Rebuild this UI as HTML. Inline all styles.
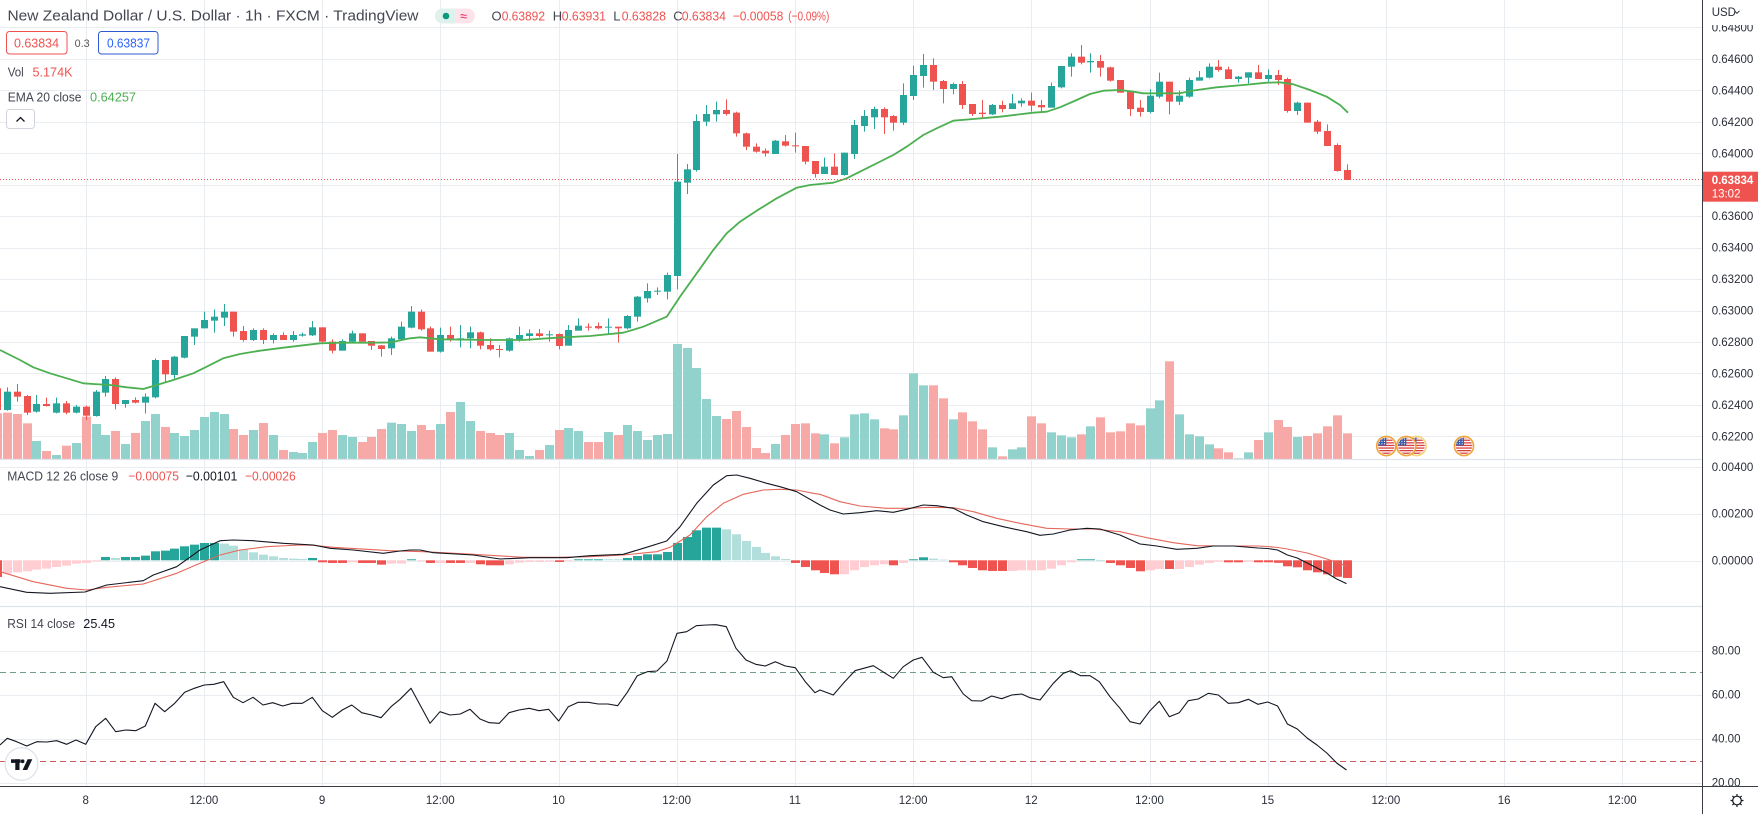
<!DOCTYPE html>
<html><head><meta charset="utf-8">
<style>
html,body{margin:0;padding:0;background:#fff;width:1758px;height:814px;overflow:hidden}
svg{display:block}
text{font-family:"Liberation Sans",Arial,sans-serif}
</style></head><body>
<svg id="c" width="1758" height="814" viewBox="0 0 1758 814" xmlns="http://www.w3.org/2000/svg">
<defs><clipPath id="fc"><circle cx="0" cy="0" r="8.3"/></clipPath></defs>
<rect x="0" y="0" width="1758" height="814" fill="#fff"/>
<g id="grid" stroke="#e9ecf1" stroke-width="1"></g>
<g id="vol"></g>
<g id="cand"></g>
<polyline id="ema" fill="none" stroke="#4caf50" stroke-width="1.8" stroke-linejoin="round"/>
<line x1="0" y1="179.5" x2="1702" y2="179.5" stroke="#ef5350" stroke-width="1" stroke-dasharray="1,2"/>
<g id="macdh"></g>
<polyline id="sig" fill="none" stroke="#e5675a" stroke-width="1.1" stroke-linejoin="round"/>
<polyline id="macd" fill="none" stroke="#131722" stroke-width="1.1" stroke-linejoin="round"/>
<line x1="0" y1="672.5" x2="1702" y2="672.5" stroke="#6f9f86" stroke-width="1" stroke-dasharray="6,4"/>
<line x1="0" y1="761.5" x2="1702" y2="761.5" stroke="#d05a5a" stroke-width="1" stroke-dasharray="6,4"/>
<polyline id="rsi" fill="none" stroke="#131722" stroke-width="1.1" stroke-linejoin="round"/>
<g id="icons"></g>

<!-- pane separators -->
<line x1="0" y1="459.5" x2="1758" y2="459.5" stroke="#e0e3eb" stroke-width="1.2"/>
<line x1="0" y1="606.5" x2="1758" y2="606.5" stroke="#e0e3eb" stroke-width="1.2"/>

<!-- header -->
<text x="7.5" y="20.5" font-size="14.5" fill="#434651" textLength="411" lengthAdjust="spacingAndGlyphs">New Zealand Dollar / U.S. Dollar · 1h · FXCM · TradingView</text>
<rect x="435" y="8.5" width="40" height="15" rx="7.5" fill="#fde4ea"/>
<path d="M442.5 8.5 H455 V23.5 H442.5 A7.5 7.5 0 0 1 442.5 8.5 Z" fill="#dff1ed"/>
<circle cx="446" cy="16" r="3.3" fill="#089981"/>
<text x="460" y="20.5" font-size="13" fill="#e91e63">≈</text>
<g font-size="13">
<text x="491.5" y="20.5" fill="#434651">O</text>
<text x="501.7" y="20.5" fill="#ef5350" textLength="43.3" lengthAdjust="spacingAndGlyphs">0.63892</text>
<text x="552.7" y="20.5" fill="#434651">H</text>
<text x="561.7" y="20.5" fill="#ef5350" textLength="44.3" lengthAdjust="spacingAndGlyphs">0.63931</text>
<text x="613.3" y="20.5" fill="#434651">L</text>
<text x="621.7" y="20.5" fill="#ef5350" textLength="44.3" lengthAdjust="spacingAndGlyphs">0.63828</text>
<text x="673.3" y="20.5" fill="#434651">C</text>
<text x="681.7" y="20.5" fill="#ef5350" textLength="44.3" lengthAdjust="spacingAndGlyphs">0.63834</text>
<text x="732.7" y="20.5" fill="#ef5350" textLength="50.6" lengthAdjust="spacingAndGlyphs">−0.00058</text>
<text x="788.3" y="20.5" fill="#ef5350" textLength="41" lengthAdjust="spacingAndGlyphs">(−0.09%)</text>
</g>
<rect x="6.5" y="31.5" width="60.5" height="22.5" rx="3" fill="#fff" stroke="#ef5350" stroke-width="1"/>
<text x="14" y="47.3" font-size="12.5" fill="#ef5350" textLength="45" lengthAdjust="spacingAndGlyphs">0.63834</text>
<text x="74.6" y="47" font-size="11" fill="#555" textLength="15" lengthAdjust="spacingAndGlyphs">0.3</text>
<rect x="98.5" y="31.5" width="59.5" height="22.5" rx="3" fill="#fff" stroke="#2f5bd0" stroke-width="1"/>
<text x="107" y="47.3" font-size="12.5" fill="#2962ff" textLength="43" lengthAdjust="spacingAndGlyphs">0.63837</text>
<text x="7.7" y="76.5" font-size="13" fill="#434651" textLength="16" lengthAdjust="spacingAndGlyphs">Vol</text>
<text x="32.5" y="76.5" font-size="13" fill="#ef5350" textLength="40" lengthAdjust="spacingAndGlyphs">5.174K</text>
<text x="7.7" y="101.5" font-size="13" fill="#434651" textLength="73.8" lengthAdjust="spacingAndGlyphs">EMA 20 close</text>
<text x="90" y="101.5" font-size="13" fill="#4caf50" textLength="46" lengthAdjust="spacingAndGlyphs">0.64257</text>
<rect x="6.5" y="109.5" width="28" height="19" rx="3" fill="#fff" stroke="#d1d4dc" stroke-width="1"/>
<path d="M16.5 121.5 L20.5 117.5 L24.5 121.5" fill="none" stroke="#131722" stroke-width="1.3"/>

<!-- MACD legend -->
<text x="7.3" y="480.5" font-size="13" fill="#434651" textLength="111" lengthAdjust="spacingAndGlyphs">MACD 12 26 close 9</text>
<text x="128.3" y="480.5" font-size="13" fill="#ef5350" textLength="50.7" lengthAdjust="spacingAndGlyphs">−0.00075</text>
<text x="185.7" y="480.5" font-size="13" fill="#131722" textLength="51.6" lengthAdjust="spacingAndGlyphs">−0.00101</text>
<text x="245" y="480.5" font-size="13" fill="#ef5350" textLength="50.7" lengthAdjust="spacingAndGlyphs">−0.00026</text>
<!-- RSI legend -->
<text x="7.3" y="627.8" font-size="13" fill="#434651" textLength="67.7" lengthAdjust="spacingAndGlyphs">RSI 14 close</text>
<text x="83.3" y="627.8" font-size="13" fill="#131722" textLength="31.7" lengthAdjust="spacingAndGlyphs">25.45</text>

<!-- TV logo -->
<circle cx="21.5" cy="764" r="16.3" fill="#fff" stroke="#e0e3eb" stroke-width="1.3"/>
<rect x="11" y="759.3" width="9.5" height="3.6" fill="#131722"/>
<rect x="15.3" y="759.3" width="4.2" height="10.7" fill="#131722"/>
<circle cx="22.6" cy="761.3" r="1.9" fill="#131722"/>
<polygon points="27.6,759.3 32.3,759.3 27.2,770 22.6,770" fill="#131722"/>

<!-- axes -->
<rect x="1703" y="0" width="55" height="786" fill="#fff"/>
<g id="axlab" font-size="11.5" fill="#2a2e39"></g>
<rect x="1703" y="0" width="55" height="25" fill="#fff"/>
<text x="1711.7" y="15.8" font-size="11.5" fill="#2a2e39">USD</text>
<path d="M1734.5 10.8 L1737 13.3 L1739.5 10.8" fill="none" stroke="#2a2e39" stroke-width="1"/>
<rect x="1702" y="171.7" width="56" height="30" fill="#ef5350"/>
<text x="1711.7" y="184.2" font-size="11.5" font-weight="bold" fill="#fff">0.63834</text>
<text x="1711.7" y="197.5" font-size="11.5" fill="#fff">13:02</text>
<rect x="0" y="787" width="1758" height="27" fill="#fff"/>
<line x1="1702.5" y1="0" x2="1702.5" y2="814" stroke="#3a3d45" stroke-width="1"/>
<line x1="0" y1="786.5" x2="1758" y2="786.5" stroke="#3a3d45" stroke-width="1"/>
<g id="tlab" font-size="11.5" fill="#2a2e39" text-anchor="middle"></g>
<g transform="translate(1737,800.5)" stroke="#131722" stroke-width="1.2" fill="none">
<circle r="4.3"/>
<path d="M0 -6.5 V-4.3 M0 4.3 V6.5 M-6.5 0 H-4.3 M4.3 0 H6.5 M-4.6 -4.6 L-3 -3 M4.6 4.6 L3 3 M-4.6 4.6 L-3 3 M4.6 -4.6 L3 -3"/>
</g>
</svg>
<script>
(function(){
const NS='http://www.w3.org/2000/svg';
function mk(t,a,p){const e=document.createElementNS(NS,t);for(const k in a)e.setAttribute(k,a[k]);p.appendChild(e);return e;}
const X=i=>85.7+9.85*i;
const grid=document.getElementById('grid');
// vertical grid
const vx=[];for(let k=0;k<14;k++)vx.push(85.7+118.2*k);
vx.forEach(x=>{const xx=Math.round(x)+0.5;mk('line',{x1:xx,y1:0,x2:xx,y2:786},grid);});
const hy=[27.4,58.9,90.3,121.8,153.2,184.7,216.1,247.6,279,310.5,341.9,373.4,404.8,436.3,467,513.5,560.5,650.5,694.5,738.5,782.5];
hy.forEach(y=>{const yy=Math.round(y)+0.5;mk('line',{x1:0,y1:yy,x2:1702,y2:yy},grid);});
// axis labels
const ax=document.getElementById('axlab');
const labs=[['0.64800',27.4],['0.64600',58.9],['0.64400',90.3],['0.64200',121.8],['0.64000',153.2],['0.63600',216.1],['0.63400',247.6],['0.63200',279],['0.63000',310.5],['0.62800',341.9],['0.62600',373.4],['0.62400',404.8],['0.62200',436.3],['0.00400',467],['0.00200',513.5],['0.00000',560.3],['80.00',650.3],['60.00',694.3],['40.00',738.3],['20.00',782.5]];
labs.forEach(l=>{const t=mk('text',{x:1711.7,y:l[1]+4.1},ax);t.textContent=l[0];});
const tl=document.getElementById('tlab');
const tn=['8','12:00','9','12:00','10','12:00','11','12:00','12','12:00','15','12:00','16','12:00'];
tn.forEach((s,k)=>{const t=mk('text',{x:vx[k],y:804.2},tl);t.textContent=s;});
// candles
const C={g:'#26a69a',r:'#ef5350'};
const cand=[
[280,[[-9,'r',325,390,320,392],[-8,'g',335,390,322,392],[-7,'r',335,350,312,365],[-6,'r',348,398,345,405],[-5,'g',372,395,345,398],[-4,'r',372,378,353,380],[-3,'g',370,398,353,400],[-2,'r',370,398,363,403],[-1,'g',380,398,375,400],[0,'r',380,407,377,420],[1,'g',335,408,330,410],[2,'g',297,338,288,350],[3,'r',297,372,292,388],[4,'g',360,372,360,383],[5,'r',360,368,352,370],[6,'g',350,368,340,400],[7,'g',240,352,235,355],[8,'r',240,283,240,308],[9,'g',230,285,228,298],[10,'g',168,233,168,235],[11,'g',145,170,145,195],[12,'g',120,145,95,145],[13,'g',110,122,88,158],[14,'g',95,113,72,138],[15,'r',95,155,95,170],[16,'r',153,180,138,185],[17,'g',150,180,145,183],[18,'r',150,180,145,192],[19,'g',165,180,160,190],[20,'r',165,180,157,180],[21,'g',165,180,153,185],[22,'g',163,167,158,170],[23,'g',142,166,123,168],[24,'r',142,185,142,190],[25,'r',185,212,178,220],[26,'g',183,212,178,212],[27,'g',160,185,152,187],[28,'r',160,185,160,190],[29,'r',183,197,183,210],[30,'r',196,207,195,230]]],
[60,[[31,'g',835,865,830,885],[32,'g',800,838,785,840],[33,'g',755,803,738,805],[34,'r',755,808,748,812],[35,'r',805,875,800,875],[36,'g',825,875,803,878],[37,'r',825,838,800,845],[38,'g',835,838,795,862],[39,'g',817,835,800,865],[40,'r',817,857,815,868],[41,'r',855,868,835,872],[42,'r',867,870,855,892],[43,'g',835,872,833,875],[44,'g',825,838,800,845],[45,'g',820,828,808,843],[46,'r',820,828,807,832],[47,'g',823,826,812,845],[48,'r',822,858,820,868],[49,'g',810,857,795,857],[50,'g',797,812,775,812],[51,'r',800,803,790,812],[52,'r',798,805,788,808],[53,'g',800,802,775,822],[54,'r',800,805,800,848],[55,'g',768,805,765,808],[56,'g',710,770,708,785],[57,'g',693,715,670,728],[58,'g',692,695,682,705],[59,'g',645,695,638,718],[60,'g',365,648,282,688],[61,'g',328,368,312,402],[62,'g',183,330,163,335],[63,'g',162,185,135,198],[64,'g',150,163,125,185],[65,'r',150,162,118,167],[66,'r',158,220,155,230],[67,'r',220,260,218,270],[68,'r',260,275,250,278],[69,'r',272,280,265,290],[70,'g',242,282,240,282],[71,'r',244,257,225,260],[72,'r',256,259,218,278]]],
[30,[[73,'r',348,395,348,403],[74,'r',393,432,393,443],[75,'g',410,432,383,432],[76,'r',410,435,370,435],[77,'g',368,435,368,437],[78,'g',285,372,270,387],[79,'g',258,288,240,305],[80,'g',237,262,230,297],[81,'r',237,262,232,312],[82,'r',258,278,255,302],[83,'g',195,278,160,285],[84,'g',135,198,107,210],[85,'g',105,138,72,173],[86,'r',105,155,85,180],[87,'r',153,177,150,220],[88,'g',162,177,158,193],[89,'r',162,225,153,237],[90,'r',222,252,222,258],[91,'r',248,252,210,265],[92,'g',225,253,222,255],[93,'r',225,237,212,247],[94,'g',220,237,192,237],[95,'g',212,220,205,230],[96,'r',212,227,188,245],[97,'r',225,232,210,245],[98,'g',168,233,158,233],[99,'g',108,172,108,175],[100,'g',80,110,70,140],[101,'r',80,98,45,103],[102,'g',93,97,70,128],[103,'r',93,113,75,140],[104,'r',112,152,110,155],[105,'r',150,188,150,188],[106,'r',185,237,182,258],[107,'r',233,246,210,260],[108,'g',197,246,178,250],[109,'g',155,200,128,205],[110,'r',155,215,155,253],[111,'g',197,215,182,225],[112,'g',150,200,143,203],[113,'g',142,152,123,152],[114,'g',110,143,100,145],[115,'r',110,120,90,125],[116,'r',118,147,110,147],[117,'g',140,147,138,158],[118,'g',127,143,127,160],[119,'r',127,147,105,147],[120,'g',135,147,118,155],[121,'r',135,150,120,165],[122,'r',147,243,143,248],[123,'g',218,243,215,255],[124,'r',218,278,218,278],[125,'r',275,305,270,312],[126,'r',303,348,283,348],[127,'r',345,423,340,425],[128,'r',420,450,403,450]]]
];
const cg=document.getElementById('cand');
cand.forEach(seg=>{const off=seg[0];seg[1].forEach(d=>{
 const cx=Math.round(X(d[0]));const col=C[d[1]];
 const bt=off+d[2]/3,bb=off+d[3]/3,wt=off+d[4]/3,wb=off+d[5]/3;
 mk('line',{x1:cx+0.5,y1:wt,x2:cx+0.5,y2:wb,stroke:col,'stroke-width':1},cg);
 mk('rect',{x:cx-3,y:bt,width:7,height:Math.max(1,bb-bt),fill:col},cg);
});});
// volume
const VC={g:'#92d2cc',r:'#f7a9a7'};
const vol=[
[280,[[-9,'r',400],[-8,'r',398],[-7,'r',402],[-6,'r',430],[-5,'g',483],[-4,'r',513],[-3,'g',525],[-2,'r',497],[-1,'g',489],[0,'r',410],[1,'g',432],[2,'g',465],[3,'r',453],[4,'g',492],[5,'r',459],[6,'g',423],[7,'g',402],[8,'r',441],[9,'g',459],[10,'g',468],[11,'g',450],[12,'g',411],[13,'g',396],[14,'g',402],[15,'r',447],[16,'r',465],[17,'g',450],[18,'r',429],[19,'g',465],[20,'r',510],[21,'g',516],[22,'g',519],[23,'g',486],[24,'r',459],[25,'r',450],[26,'g',465],[27,'g',471],[28,'r',486],[29,'r',471],[30,'r',447]]],
[60,[[31,'g',1088],[32,'g',1092],[33,'g',1113],[34,'r',1095],[35,'r',1110],[36,'g',1092],[37,'r',1056],[38,'g',1026],[39,'g',1083],[40,'r',1113],[41,'r',1119],[42,'r',1125],[43,'g',1119],[44,'g',1170],[45,'g',1188],[46,'r',1170],[47,'g',1155],[48,'r',1110],[49,'g',1104],[50,'g',1113],[51,'r',1146],[52,'r',1146],[53,'g',1116],[54,'r',1125],[55,'g',1095],[56,'g',1113],[57,'g',1140],[58,'g',1125],[59,'g',1122],[60,'g',852],[61,'g',864],[62,'g',924],[63,'g',1017],[64,'g',1068],[65,'r',1077],[66,'r',1053],[67,'r',1101],[68,'r',1164],[69,'r',1179],[70,'g',1152],[71,'r',1125],[72,'r',1092]]],
[30,[[73,'r',1180],[74,'r',1210],[75,'g',1213],[76,'r',1240],[77,'g',1222],[78,'g',1153],[79,'g',1150],[80,'g',1168],[81,'r',1195],[82,'r',1198],[83,'g',1156],[84,'g',1030],[85,'g',1066],[86,'r',1066],[87,'r',1105],[88,'g',1168],[89,'r',1147],[90,'r',1174],[91,'r',1198],[92,'g',1252],[93,'r',1279],[94,'g',1258],[95,'g',1252],[96,'r',1159],[97,'r',1180],[98,'g',1207],[99,'g',1216],[100,'g',1222],[101,'r',1213],[102,'g',1189],[103,'r',1162],[104,'r',1207],[105,'r',1204],[106,'r',1180],[107,'r',1186],[108,'g',1135],[109,'g',1111],[110,'r',994],[111,'g',1153],[112,'g',1213],[113,'g',1219],[114,'g',1243],[115,'r',1255],[116,'r',1267],[117,'g',1285],[118,'g',1267],[119,'r',1230],[120,'g',1207],[121,'r',1170],[122,'r',1191],[123,'g',1221],[124,'r',1218],[125,'r',1210],[126,'r',1189],[127,'r',1156],[128,'r',1210]]]
];
const vg=document.getElementById('vol');
vol.forEach(seg=>{const off=seg[0];seg[1].forEach(d=>{
 const cx=Math.round(X(d[0]));const top=off+d[2]/3;
 mk('rect',{x:cx-4,y:top,width:9,height:Math.max(0.5,459-top),fill:VC[d[1]]},vg);
});});
// EMA
const ema=[[0,350],[20,360],[33.3,367.3],[50,373.3],[66.7,378.3],[83.3,383.3],[93.3,384],[110,385],[126.7,387.3],[143.3,389],[156.7,385],[173.3,380],[193.3,373.3],[206.7,366.7],[223.3,358.3],[240,354],[260,350.7],[283.3,347.7],[300,345.7],[320,343.3],[340,342.7],[366.7,342.7],[390,342.5],[410,338.3],[420,337.3],[440,339.3],[490,340],[523.3,340],[556.7,337.7],[590,336],[623.3,332.7],[643.3,326.7],[666.7,316.7],[680,296.7],[696.7,273.3],[713.3,250],[726.7,233.3],[740,221.7],[756.7,210.7],[776.7,198.3],[796.7,187.7],[810,185],[820,184],[833.3,182.7],[846.7,178.3],[866.7,168.3],[883.3,160],[893.3,155],[906.7,146.7],[923.3,135],[936.7,128.3],[953.3,120.7],[973.3,119],[1000,116.7],[1033.3,112.7],[1046.7,111.7],[1060,107.3],[1076.7,100],[1090,94],[1103.3,90.7],[1120,90],[1133.3,91.7],[1143.3,93.3],[1160,93.3],[1180,93.3],[1193.3,90.5],[1216.7,87.3],[1243.3,85],[1266.7,82.7],[1280,82.3],[1293.3,84.3],[1310,90],[1326.7,96.7],[1340,105],[1348,112.7]];
document.getElementById('ema').setAttribute('points',ema.map(p=>p.join(',')).join(' '));
// MACD hist
const HC={G:'#26a69a',g:'#b2dfdb',R:'#ef5350',P:'#ffcdd2'};
const hist=[
[440,362,[[-9,'R',412],[-8,'P',402],[-7,'P',398],[-6,'P',395],[-5,'P',390],[-4,'P',387],[-3,'P',382],[-2,'P',378],[-1,'P',372],[0,'P',370],[1,'P',365],[2,'G',352],[3,'g',355],[4,'G',352],[5,'G',352],[6,'G',348],[7,'G',335],[8,'G',333],[9,'G',327],[10,'G',320],[11,'G',315],[12,'G',310],[13,'G',310],[14,'g',312],[15,'g',318],[16,'g',330],[17,'g',338],[18,'g',345],[19,'g',350],[20,'g',355],[21,'g',357],[22,'g',358],[23,'G',355],[24,'R',368],[25,'R',370],[26,'R',370],[27,'P',368],[28,'R',370],[29,'R',370],[30,'R',375]]],
[460,300,[[31,'P',310],[32,'P',310],[33,'G',297],[34,'P',302],[35,'R',308],[36,'P',308],[37,'R',308],[38,'R',308],[39,'P',308],[40,'R',312],[41,'R',315],[42,'R',315],[43,'P',312],[44,'P',307],[45,'P',305],[46,'P',305],[47,'P',304],[48,'R',305],[49,'P',302],[50,'G',297],[51,'G',297],[52,'G',297],[53,'g',297],[54,'g',297],[55,'G',293],[56,'G',287],[57,'G',282],[58,'G',282],[59,'G',275],[60,'G',248],[61,'G',230],[62,'G',210],[63,'G',202],[64,'G',202],[65,'g',207],[66,'g',222],[67,'g',242],[68,'g',260],[69,'g',278],[70,'g',288],[71,'g',296],[72,'R',308],[73,'R',320],[74,'R',330],
[75,'R',338],[76,'R',342],[77,'P',342],[78,'P',330],[79,'P',320],[80,'P',315],[81,'P',312],[82,'R',315],[83,'P',308],[84,'G',297],[85,'G',291],[86,'g',295],[87,'g',298],[88,'R',306],[89,'R',315],[90,'R',323],[91,'R',330],[92,'R',332],[93,'R',332],[94,'P',332],[95,'P',330],[96,'P',330],[97,'P',330],[98,'P',325],[99,'P',315],[100,'P',306],[101,'G',297],[102,'G',297],[103,'g',299],[104,'R',308],[105,'R',315],[106,'R',323],[107,'R',333],[108,'P',330],[109,'P',326],[110,'R',326],[111,'P',326],[112,'P',320],[113,'P',313],[114,'P',308],[115,'P',304],[116,'R',306],[117,'R',306],[118,'P',304],[119,'R',306],
[120,'R',306],[121,'R',307.5],[122,'R',318],[123,'R',321],[124,'R',330],[125,'R',336],[126,'R',342],[127,'R',349.5],[128,'R',353]]]
];
const hg=document.getElementById('macdh');
hist.forEach(seg=>{const off=seg[0],z0=off+seg[1]/3;seg[2].forEach(d=>{
 const cx=Math.round(X(d[0]));const y=off+d[2]/3;const base=560.3;
 const v=y-z0;const y1=Math.min(base,base+v),h=Math.max(0.8,Math.abs(v));
 mk('rect',{x:cx-4,y:y1,width:9,height:h,fill:HC[d[1]]},hg);
});});
const macd=[[0,586.7],[26.7,592.3],[50,593.3],[85,592],[106.7,585],[143.3,580.7],[153.3,575],[176.7,566.7],[200,550],[220,540.7],[233.3,540],[253.3,540.7],[283.3,543.3],[313.3,545],[330,548.3],[353.3,550],[383.3,553.3],[400,551],[410,550],[420,550],[433.3,552.7],[473.3,555],[500,559],[530,557.7],[566.7,557.7],[590,555.7],[623.3,554.3],[643.3,548.3],[666.7,541],[680,526.7],[696.7,503.3],[713.3,485],[726.7,475.7],[736.7,475],[750,478.3],[766.7,483.3],[780,486.7],[796.7,491.7],[820,505],[830,510],[843.3,514],[860,512.7],[876.7,510.7],[893.3,512.3],[906.7,509.3],[923.3,505],[936.7,505.7],[953.3,508.3],[966.7,515],[983.3,521.7],[1003.3,526.7],[1026.7,531.7],[1040,535.3],[1053.3,534],[1070,530],[1086.7,528.3],[1100,529],[1120,535],[1140,544],[1156.7,546],[1176.7,549.3],[1196.7,548.3],[1213.3,546],[1233.3,546],[1257.9,548],[1267.7,548.5],[1277.6,550],[1287.4,555],[1297.3,558],[1307.1,563],[1317,568],[1326.8,573],[1336.7,579],[1346.5,583.6]];
const sig=[[0,571.7],[33.3,581.7],[66.7,588.3],[86.7,590],[106.7,587.3],[143.3,584],[176.7,573.3],[200,563.3],[220,555],[240,550],[266.7,546.7],[300,545],[313.3,545.3],[333.3,547.3],[366.7,549.3],[390,550.7],[423.3,551.7],[473.3,554.3],[523.3,557.3],[556.7,557.3],[590,556.7],[623.3,555],[656.7,551.7],[670,547.3],[690,535],[706.7,516.7],[723.3,503.3],[743.3,494.3],[763.3,490],[780,489.3],[796.7,490],[813.3,493.3],[820,494.3],[840,501.7],[860,506],[886.7,508.3],[906.7,508.3],[930,507.3],[953.3,507.7],[973.3,511.7],[996.7,518.3],[1020,523.3],[1046.7,528.3],[1070,529],[1093.3,529],[1120,531.7],[1146.7,537.7],[1173.3,542.7],[1196.7,545.7],[1220,546],[1257.9,546],[1267.7,546.5],[1277.6,547.5],[1287.4,549],[1297.3,551],[1307.1,553],[1317,556],[1326.8,559],[1336.7,562.5],[1346.5,566]];
document.getElementById('macd').setAttribute('points',macd.map(p=>p.join(',')).join(' '));
document.getElementById('sig').setAttribute('points',sig.map(p=>p.join(',')).join(' '));
const rsi=[[0,745],[7.3,738.3],[16.7,741.7],[26.7,746],[36.7,741.7],[46.7,742],[56.7,740.7],[66.7,744.3],[76,740],[85.7,744.3],[95.7,726.7],[105.7,718.3],[115.7,731.7],[125.7,730],[135.7,730.7],[145.3,726],[155,703.3],[164.7,711.7],[174.7,703.3],[184.7,692.3],[194.3,688.3],[204.3,685],[213.7,684.3],[223.7,681.7],[233.3,697.3],[243,702.7],[253,697.3],[263,705],[272.7,702.7],[282.7,706],[292.3,703.3],[302.3,703.3],[312.3,697.3],[322.3,710.7],[332.3,717.3],[342.3,710],[351.7,705],[361.7,712.7],[371.7,715],[381,717.7],[391,706.7],[400,699.3],[411,688.3],[430,723.3],[440,711.7],[450,715],[460.3,714],[470,709.3],[480,719],[489.3,722.7],[499.3,723.3],[509,712.7],[519,710],[529.3,708.3],[539,710.7],[548.7,709.3],[558.7,721],[568.3,706.7],[578.3,702.3],[588.3,702.3],[598.3,704],[608,704],[617.7,705.7],[627.3,692.3],[637.3,675.7],[647.3,671.7],[657,671],[667,661],[677,633.3],[686.7,631.7],[696.3,625.7],[706.3,625],[716,624.7],[726.3,626.7],[736,648.3],[746,660],[755.7,664.3],[765.3,666],[775.3,661.7],[785.3,666],[795.3,667.7],[805.3,681.7],[815,692.7],[820,690],[833.3,695],[843.3,683.3],[855,670.7],[873.3,665.7],[893.3,678.3],[903.3,666.7],[913.3,660],[922,657.3],[933.3,672.3],[943.3,677.7],[951.7,676.7],[963.3,694],[971.7,700.7],[981.7,701],[991.7,696],[1001.7,698.7],[1011.7,695],[1021.7,694],[1030,697.7],[1040,700],[1053.3,683.3],[1063.3,673.3],[1070.7,670.7],[1080.7,675.7],[1090,675.7],[1099.3,681.7],[1110,696.7],[1120,708.3],[1130,721.7],[1140,724],[1150,710.7],[1159.3,701.3],[1169.3,716.7],[1179.3,712.7],[1188.3,700.7],[1198.3,699],[1208.3,693.3],[1218.3,695],[1228.3,703.3],[1238.3,702.7],[1248.3,699.3],[1257.9,704.3],[1267.7,702],[1277.6,706],[1287.4,724],[1297.3,729],[1307.1,738],[1317,745],[1326.8,753],[1336.7,763],[1346.5,770]];
document.getElementById('rsi').setAttribute('points',rsi.map(p=>p.join(',')).join(' '));
// event icons
const ig=document.getElementById('icons');
function flag(cx,cy,border){
 const g=mk('g',{transform:'translate('+cx+','+cy+')'},ig);
 mk('circle',{r:9.6,fill:'#fff',stroke:border,'stroke-width':1.6},g);
 const f=mk('g',{'clip-path':'url(#fc)'},g);
 for(let k=0;k<7;k++){mk('rect',{x:-9,y:-9+k*2.6,width:18,height:1.3,fill:'#d9413e'},f);}
 mk('rect',{x:-9,y:-9,width:9,height:8.5,fill:'#3d5da8'},f);
 for(let a=0;a<3;a++)for(let b=0;b<3;b++)mk('rect',{x:-7.5+a*2.6,y:-7.5+b*2.4,width:1,height:1,fill:'#fff'},f);
}
flag(1416.5,446,'#f2d37a');
flag(1386.3,446,'#efa43a');
flag(1406.3,446,'#efa43a');
flag(1464,446,'#efa43a');
})();
</script>
</body></html>
